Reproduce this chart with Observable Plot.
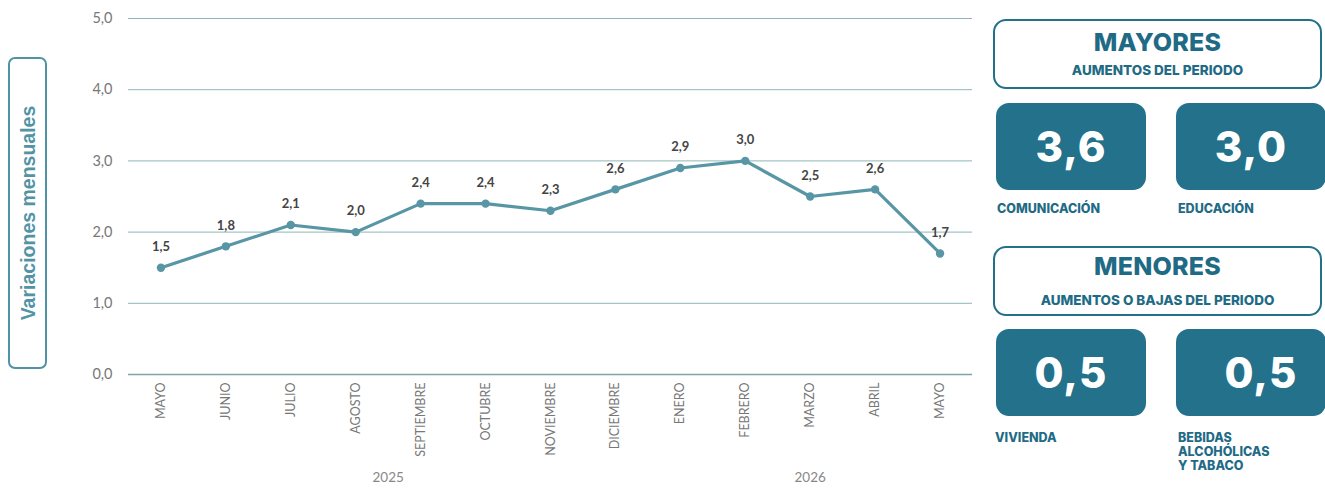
<!DOCTYPE html>
<html>
<head>
<meta charset="utf-8">
<script src="https://cdn.jsdelivr.net/npm/d3@7"></script>
<script src="https://cdn.jsdelivr.net/npm/@observablehq/plot@0.6"></script>
<style>
  html, body { margin: 0; padding: 0; background: #fff; }
  #wrap { position: relative; width: 1325px; height: 489px; overflow: hidden; font-family: Inter, "Noto Sans", sans-serif; }
  #chart { position: absolute; left: 0; top: 0; }
  .ytitle { position: absolute; left: 8px; top: 57px; width: 35px; height: 308px; border: 2px solid #4f93a5; border-radius: 7px; box-sizing: content-box; }
  .ytitle span { position: absolute; left: 50%; top: 50%; transform: translate(-50%, -50%) rotate(-90deg); white-space: nowrap; font-family: "Liberation Sans", Arial, sans-serif; font-weight: bold; font-size: 19.5px; color: #5293a6; }
  .hdr { position: absolute; left: 993px; width: 329px; height: 70px; border: 2.5px solid #23708a; border-radius: 13px; box-sizing: border-box; text-align: center; color: #1f6b86; background: #fff; }
  .hdr .t { font-weight: 800; font-size: 25px; line-height: 25px; letter-spacing: 0.2px; }
  .hdr .s { font-weight: 800; font-size: 13.5px; line-height: 14px; }
  .tile { position: absolute; width: 150px; height: 87px; background: #23718b; border-radius: 13px; color: #fff; font-weight: 800; font-size: 42px; display: flex; align-items: center; justify-content: center; letter-spacing: 1px; }
  .lbl { position: absolute; color: #1f6b86; font-weight: 800; font-size: 12.5px; line-height: 14px; }
</style>
</head>
<body>
<div id="wrap">
  <div id="chart"></div>
  <div class="ytitle"><span>Variaciones mensuales</span></div>
  <div id="panel"></div>
</div>
<script>
// ---- data ----
const months = ["MAYO","JUNIO","JULIO","AGOSTO","SEPTIEMBRE","OCTUBRE","NOVIEMBRE","DICIEMBRE","ENERO","FEBRERO","MARZO","ABRIL","MAYO"];
const years = ["2025","2025","2025","2025","2025","2025","2025","2025","2026","2026","2026","2026","2026"];
const values = [1.5, 1.8, 2.1, 2.0, 2.4, 2.4, 2.3, 2.6, 2.9, 3.0, 2.5, 2.6, 1.7];
const yTicks = [0, 1, 2, 3, 4, 5];

const panelHeaders = [
  {title: "MAYORES", sub: "AUMENTOS DEL PERIODO"},
  {title: "MENORES", sub: "AUMENTOS O BAJAS DEL PERIODO"}
];
const panelValues = ["3,6", "3,0", "0,5", "0,5"];
const panelLabels = ["COMUNICACIÓN", "EDUCACIÓN", "VIVIENDA", "BEBIDAS<br>ALCOHÓLICAS<br>Y TABACO"];

const fmt = v => v.toFixed(1).replace(".", ",");
const data = values.map((v, i) => ({i, v, month: months[i], year: years[i]}));
const yearGroups = d3.groups(data, d => d.year).map(([year, rows]) => ({year, x: d3.mean(rows, r => r.i)}));

const chart = Plot.plot({
  width: 980,
  height: 489,
  marginLeft: 128,
  marginRight: 8,
  marginTop: 18,
  marginBottom: 115,
  style: {fontFamily: "Lato, 'Open Sans', sans-serif", background: "transparent", overflow: "visible"},
  x: {domain: [-0.5, months.length - 0.5], axis: null},
  y: {domain: [0, 5], axis: null},
  marks: [
    Plot.ruleY(yTicks.filter(t => t > 0), {stroke: "#8fb5b7", strokeWidth: 1}),
    Plot.ruleY([0], {stroke: "#7ea4a6", strokeWidth: 1.5}),
    Plot.axisY(yTicks, {tickSize: 0, tickPadding: 16, tickFormat: fmt, fontSize: 14.5, fill: "#777", label: null, anchor: "left"}),
    Plot.axisX(d3.range(months.length), {tickSize: 0, tickPadding: 8, tickRotate: -90, tickFormat: i => months[i], fontSize: 12.5, fill: "#777", label: null, anchor: "bottom"}),
    Plot.text(yearGroups, {x: "x", text: "year", frameAnchor: "bottom", dy: 107, fontSize: 13.5, fill: "#888"}),
    Plot.line(data, {x: "i", y: "v", stroke: "#5896a6", strokeWidth: 3.2}),
    Plot.dot(data, {x: "i", y: "v", r: 4.2, fill: "#5896a6", stroke: "none"}),
    Plot.text(data, {x: "i", y: "v", text: d => fmt(d.v), dy: -21, fontSize: 13, fontWeight: "bold", fill: "#444"})
  ]
});
document.getElementById("chart").appendChild(chart);

// ---- right panel ----
const panel = document.getElementById("panel");
const hdrTops = [19, 246];
panelHeaders.forEach((h, k) => {
  const d = document.createElement("div");
  d.className = "hdr";
  d.style.top = hdrTops[k] + "px";
  d.innerHTML = k === 0
    ? `<div class="t" style="margin-top:9px">${h.title}</div><div class="s" style="margin-top:8px">${h.sub}</div>`
    : `<div class="t" style="margin-top:6px">${h.title}</div><div class="s" style="margin-top:14px">${h.sub}</div>`;
  panel.appendChild(d);
});
const tilePos = [[996, 103], [1176, 103], [996, 329], [1176, 329]];
const lblPos = [[997, 202], [1178, 202], [995, 431], [1178, 431]];
panelValues.forEach((v, k) => {
  const t = document.createElement("div");
  t.className = "tile";
  t.style.left = tilePos[k][0] + "px";
  t.style.top = tilePos[k][1] + "px";
  if (k === 3) t.style.paddingLeft = "20px", t.style.boxSizing = "border-box";
  t.textContent = v;
  panel.appendChild(t);
  const l = document.createElement("div");
  l.className = "lbl";
  l.style.left = lblPos[k][0] + "px";
  l.style.top = lblPos[k][1] + "px";
  l.innerHTML = panelLabels[k];
  panel.appendChild(l);
});
</script>
</body>
</html>
